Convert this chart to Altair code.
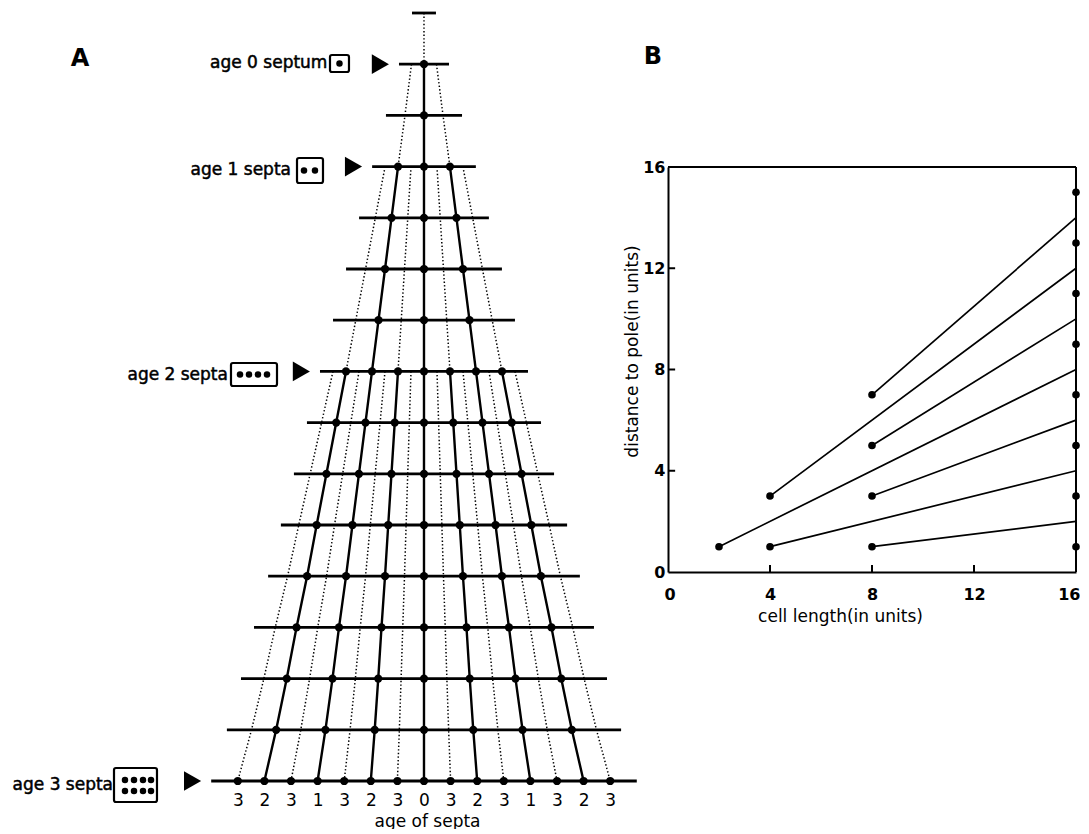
import altair as alt
import pandas as pd

FONT = "DejaVu Sans"

# ---------------- Panel A data ----------------
rows = list(range(16))
# half length of the cell drawn at each row (in units of the final septum spacing)
half_len = [0.45, 0.94, 1.43, 1.95, 2.44, 2.93, 3.42, 3.91, 4.40, 4.89, 5.38, 5.86, 6.39, 6.88, 7.41, 8.0]
# septum positions, in eighths of the cell half length, and their ages
septum_pos = [-7, -6, -5, -4, -3, -2, -1, 0, 1, 2, 3, 4, 5, 6, 7]
septum_age = [3, 2, 3, 1, 3, 2, 3, 0, 3, 2, 3, 1, 3, 2, 3]
age_birth_row = [1, 3, 7, 15]     # row at which septa of each age are formed
age_trace_row = [0, 1, 3, 7]      # row from which the future septum site is traced (dotted)
age_labels = ["age 0 septum", "age 1 septa", "age 2 septa", "age 3 septa"]

# ---------------- Panel B data ----------------
b_start_x = [2, 4, 8, 4, 8, 8, 8]
b_start_y = [1, 1, 1, 3, 3, 5, 7]
b_end_x = [16, 16, 16, 16, 16, 16, 16]
b_end_y = [8, 4, 2, 12, 6, 10, 14]
b_pole_x = [16, 16, 16, 16, 16, 16, 16, 16]
b_pole_y = [1, 3, 5, 7, 9, 11, 13, 15]
b_ticks = [0, 4, 8, 12, 16]

# ---------------- build tables for panel A ----------------
row_df = pd.DataFrame({"row": rows,
                       "x1": [-h for h in half_len],
                       "x2": half_len})

solid, dotted, dots = [], [], []
for sid, (p, a) in enumerate(zip(septum_pos, septum_age)):
    born = age_birth_row[a]
    start = age_trace_row[a]
    for r in range(start, born + 1):
        dotted.append({"sid": sid, "row": r, "x": p / 8 * half_len[r]})
    for r in range(born, 16):
        solid.append({"sid": sid, "row": r, "x": p / 8 * half_len[r]})
        dots.append({"row": r, "x": p / 8 * half_len[r]})
solid_df = pd.DataFrame(solid)
dotted_df = pd.DataFrame(dotted)
dots_df = pd.DataFrame(dots)

arrow_df = pd.DataFrame({"row": age_birth_row,
                         "x": [-half_len[r] - 0.7 for r in age_birth_row]})

label_df = pd.DataFrame({"label": age_labels,
                         "x": [-3.63, -5.0, -7.37, -11.69],
                         "row": [0.986, 3.076, 7.061, 15.08]})

box_df = pd.DataFrame({"x1": [-3.534, -4.774, -7.256, -11.654],
                       "x2": [-2.820, -3.797, -5.526, -10.038],
                       "y1": [0.820, 2.832, 6.836, 14.746],
                       "y2": [1.152, 3.320, 7.285, 15.410]})
box_dot_df = pd.DataFrame({
    "x": [-3.177,
          -4.511, -4.098,
          -6.917, -6.579, -6.241, -5.902,
          -11.241, -10.902, -10.564, -10.263,
          -11.241, -10.902, -10.564, -10.263],
    "row": [0.986,
            3.076, 3.076,
            7.061, 7.061, 7.061, 7.061,
            14.98, 14.98, 14.98, 14.98,
            15.195, 15.195, 15.195, 15.195]})

letter_a = pd.DataFrame({"t": ["A"], "x": [-12.93], "row": [0.898]})

xs = alt.Scale(domain=[-15.451, 7.82], nice=False, zero=False)
ys = alt.Scale(domain=[0, 15], reverse=True, nice=False, zero=False)
label_expr = "[" + ",".join("'%d'" % a for a in septum_age) + "][datum.value + 7]"
xaxis = alt.Axis(values=septum_pos, labelExpr=label_expr, domain=False, ticks=False,
                 grid=False, labelPadding=11, labelFontSize=17, labelFont=FONT,
                 labelColor="black", labelFlush=False, title="age of septa",
                 titleFont=FONT, titleFontSize=17, titleFontWeight="normal",
                 titleColor="black", titlePadding=5, titleX=414)


def ax(f):
    return alt.X(f, type="quantitative", scale=xs, axis=xaxis)


def ay(f):
    return alt.Y(f, type="quantitative", scale=ys, axis=None)


dotted_layer = alt.Chart(dotted_df).mark_line(
    color="black", strokeWidth=1.5, strokeDash=[1.4, 2.2]
).encode(x=ax("x"), y=ay("row"), detail="sid:N", order="row:Q")

solid_layer = alt.Chart(solid_df).mark_line(
    color="black", strokeWidth=2.4
).encode(x=ax("x"), y=ay("row"), detail="sid:N", order="row:Q")

row_layer = alt.Chart(row_df).mark_rule(color="black", strokeWidth=2.8).encode(
    x=ax("x1"), x2="x2", y=ay("row"))

dot_layer = alt.Chart(dots_df).mark_circle(color="black", size=68, opacity=1).encode(
    x=ax("x"), y=ay("row"))

arrow_layer = alt.Chart(arrow_df).mark_point(
    shape="triangle-right", filled=True, color="black", size=390, opacity=1
).encode(x=ax("x"), y=ay("row"))

label_layer = alt.Chart(label_df).mark_text(
    align="right", baseline="middle", font=FONT, fontSize=17, color="black",
    stroke="black", strokeWidth=0.5
).encode(x=ax("x"), y=ay("row"), text="label:N")

box_layer = alt.Chart(box_df).mark_rect(
    fillOpacity=0, stroke="black", strokeWidth=2.2, cornerRadius=2
).encode(x=ax("x1"), x2="x2", y=ay("y1"), y2="y2")

box_dot_layer = alt.Chart(box_dot_df).mark_circle(color="black", size=42, opacity=1).encode(
    x=ax("x"), y=ay("row"))

a_layer = alt.Chart(letter_a).mark_text(
    font=FONT, fontSize=24, fontWeight="bold", color="black"
).encode(x=ax("x"), y=ay("row"), text="t:N")

panel_a = alt.layer(dotted_layer, solid_layer, row_layer, dot_layer, arrow_layer,
                    label_layer, box_layer, box_dot_layer, a_layer).properties(
    width=619, height=768)

# ---------------- panel B ----------------
seg_df = pd.DataFrame({"x0": b_start_x, "y0": b_start_y, "x1": b_end_x, "y1": b_end_y})
bdot_df = pd.DataFrame({"x": b_start_x + b_pole_x, "y": b_start_y + b_pole_y})
frame_df = pd.DataFrame({"x0": [b_ticks[0], b_ticks[-1]], "x1": [b_ticks[-1], b_ticks[-1]],
                         "y0": [b_ticks[-1], b_ticks[0]], "y1": [b_ticks[-1], b_ticks[-1]]})
inner = b_ticks[1:-1]
tick_df = pd.DataFrame({"x0": inner + [0] * len(inner),
                        "x1": inner + [0.28] * len(inner),
                        "y0": [0] * len(inner) + inner,
                        "y1": [0.28] * len(inner) + inner})

bxs = alt.Scale(domain=[0, 16], nice=False, zero=False)
bys = alt.Scale(domain=[0, 16], nice=False, zero=False)
bxaxis = alt.Axis(values=b_ticks, ticks=False, grid=False, domainColor="black",
                  domainWidth=2, labelPadding=14, labelFont=FONT, labelFontSize=16,
                  labelFontWeight="bold", labelColor="black", labelFlush=True,
                  labelFlushOffset=4,
                  title="cell length(in units)", titleFont=FONT, titleFontSize=17,
                  titleFontWeight="normal", titleColor="black", titleX=172, titlePadding=6)
byaxis = alt.Axis(values=b_ticks, ticks=False, grid=False, domainColor="black",
                  domainWidth=2, labelPadding=3, labelFont=FONT, labelFontSize=16,
                  labelFontWeight="bold", labelColor="black", labelFlush=False,
                  title="distance to pole(in units)", titleFont=FONT, titleFontSize=17,
                  titleFontWeight="normal", titleColor="black", titleY=184, titlePadding=1)


def bx(f):
    return alt.X(f, type="quantitative", scale=bxs, axis=bxaxis)


def by(f):
    return alt.Y(f, type="quantitative", scale=bys, axis=byaxis)


seg_layer = alt.Chart(seg_df).mark_rule(color="black", strokeWidth=1.7).encode(
    x=bx("x0"), x2="x1", y=by("y0"), y2="y1")
frame_layer = alt.Chart(frame_df).mark_rule(color="black", strokeWidth=2).encode(
    x=bx("x0"), x2="x1", y=by("y0"), y2="y1")
tick_layer = alt.Chart(tick_df).mark_rule(color="black", strokeWidth=2).encode(
    x=bx("x0"), x2="x1", y=by("y0"), y2="y1")
bdot_layer = alt.Chart(bdot_df).mark_circle(color="black", size=58, opacity=1).encode(
    x=bx("x"), y=by("y"))

panel_b = alt.layer(seg_layer, frame_layer, tick_layer, bdot_layer).properties(
    width=408, height=405)

label_b = alt.Chart(pd.DataFrame({"t": ["B"]})).mark_text(
    font=FONT, fontSize=24, fontWeight="bold", color="black"
).encode(x=alt.value(-15), y=alt.value(44), text="t:N").properties(width=408, height=141)

right = alt.vconcat(label_b, panel_b, spacing=13, bounds="flush")

chart = alt.hconcat(panel_a, right, spacing=36, bounds="flush").properties(
    padding={"left": 4, "top": 2, "right": 0, "bottom": 0},
    background="white"
).configure_view(stroke=None)

chart.save("out.html", embed_options={"renderer": "svg", "actions": False})
